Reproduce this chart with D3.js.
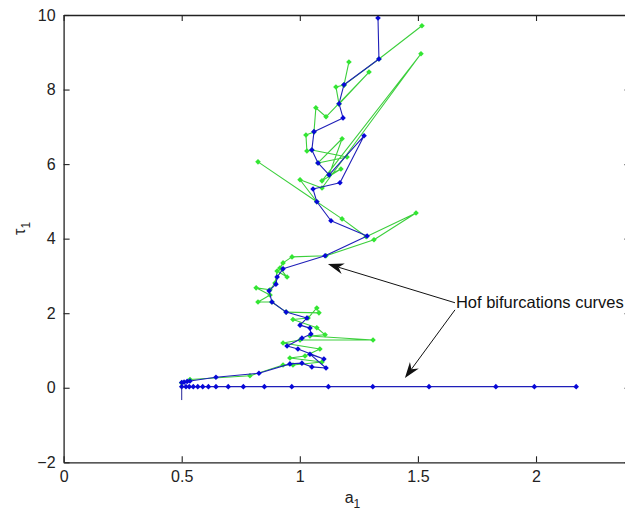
<!DOCTYPE html>
<html>
<head>
<meta charset="utf-8">
<script src="https://cdn.jsdelivr.net/npm/d3@7"></script>
<style>
body { margin:0; background:#fff; overflow:hidden; }
svg { display:block; font-family:"Liberation Sans", Arial, sans-serif; }
</style>
</head>
<body>
<div id="graph_container"></div>
<script>
var xTicks = [0, 0.5, 1, 1.5, 2];
var yTicks = [-2, 0, 2, 4, 6, 8, 10];

// lower hopf branch (a1, tau1)
var baseA   = [0.500,0.518,0.532,0.549,0.568,0.589,0.613,0.645,0.697,0.761,0.850,0.966,1.121,1.309,1.547,1.830,1.993,2.170];
var baseTau = [0.03,0.03,0.03,0.03,0.03,0.03,0.03,0.03,0.03,0.03,0.03,0.03,0.03,0.03,0.03,0.03,0.03,0.03];

var blueTail = [[0.5,-0.03],[0.5,-0.33]];

var blueUpper = [
  [0.500,0.14],[0.510,0.15],[0.523,0.17],[0.535,0.18],[0.645,0.28],[0.827,0.39],
  [0.958,0.64],[1.009,0.66],[1.051,0.56],[1.111,0.53],[1.043,0.90],[1.102,0.77],
  [0.992,1.04],[0.946,1.12],[1.009,1.33],[1.047,1.44],[1.043,1.60],[1.001,1.68],
  [1.030,1.87],[0.942,2.03],[0.882,2.30],[0.870,2.60],[0.899,2.78],[0.904,2.97],
  [0.929,3.19],[1.107,3.54],[1.285,4.07],[1.132,4.48],[1.072,4.99],[1.056,5.33],
  [1.170,5.50],[1.272,6.76],[1.124,5.71],[1.077,6.03],[1.051,6.38],[1.060,6.87],
  [1.183,7.24],[1.166,7.62],[1.187,8.13],[1.335,8.82],[1.331,9.92]
];

var greenCurve = [
  [0.500,0.13],[0.535,0.22],[0.789,0.32],[0.929,0.61],[0.971,0.61],[1.094,0.69],
  [0.958,0.80],[1.022,0.85],[1.085,1.04],[0.929,1.20],[1.001,1.28],[1.310,1.28],
  [1.043,1.39],[1.107,1.42],[1.072,1.61],[0.971,1.83],[1.035,1.87],[1.072,2.14],
  [1.081,2.01],[0.942,2.03],[0.882,2.30],[0.823,2.30],[0.874,2.49],[0.815,2.68],
  [0.874,2.63],[0.895,2.81],[0.904,3.13],[0.946,2.97],[0.916,3.21],[0.929,3.35],
  [0.967,3.51],[1.111,3.54],[1.314,3.97],[1.492,4.69],[1.281,4.05],[1.179,4.53],
  [0.823,6.06],[1.072,4.99],[1.001,5.58],[1.094,5.36],[1.513,8.96],[1.094,5.55],
  [1.174,5.87],[1.124,5.71],[1.179,6.68],[1.077,6.03],[1.200,6.19],[1.051,6.38],
  [1.030,6.35],[1.026,6.78],[1.060,6.86],[1.068,7.51],[1.111,7.27],[1.293,8.47],
  [1.166,7.61],[1.153,8.07],[1.187,8.12],[1.208,8.74],[1.187,8.12],[1.335,8.82],
  [1.517,9.71]
];

var noteText = 'Hof bifurcations curves';
var noteAt = [1.661, 2.31];
var arrowTails = [[1.657, 2.28], [1.657, 2.09]];
var arrowTips  = [[1.119, 3.32], [1.445, 0.26]];

var w = 625, h = 516;
var blueLine = '#1f1fb8', blueMark = '#0808d8';
var greenLine = '#3ccf3c', greenMark = '#33e633';

var svg = d3.select('#graph_container')
            .append('svg')
            .attr('width', w)
            .attr('height', h);

var xScale = d3.scaleLinear().domain([0, 2.4]).range([63.6, 630.5]);
var yScale = d3.scaleLinear().domain([-2, 10]).range([462.3, 15]);

var plot = svg.append('g');

function diamond(r) {
  return 'M0,' + (-r) + 'L' + r + ',0L0,' + r + 'L' + (-r) + ',0Z';
}

var line = d3.line()
             .x(function(d) { return xScale(d[0]); })
             .y(function(d) { return yScale(d[1]); });

var base = baseA.map(function(a, i) { return [a, baseTau[i]]; });

function drawSeries(data, lineColor, markColor, cls) {
  plot.append('path')
      .datum(data)
      .attr('fill', 'none')
      .attr('stroke', lineColor)
      .attr('stroke-width', 1.1)
      .attr('stroke-linejoin', 'round')
      .attr('d', line);
  plot.selectAll('.' + cls)
      .data(data)
      .enter()
      .append('path')
      .attr('class', cls)
      .attr('d', diamond(2.8))
      .attr('fill', markColor)
      .attr('transform', function(d) {
        return 'translate(' + xScale(d[0]) + ',' + yScale(d[1]) + ')';
      });
}

drawSeries(greenCurve, greenLine, greenMark, 'g_pt');
drawSeries(base, blueLine, blueMark, 'b_base');
drawSeries(blueUpper, blueLine, blueMark, 'b_up');

plot.append('path')
    .datum(blueTail)
    .attr('fill', 'none')
    .attr('stroke', '#26269a')
    .attr('stroke-width', 1)
    .attr('d', line);

// box + ticks
var tickCol = '#222';
var xAxis = d3.axisBottom(xScale).tickValues(xTicks).tickSizeInner(-6).tickSizeOuter(0).tickPadding(8)
              .tickFormat(function(d) { return d; });
var yAxis = d3.axisLeft(yScale).tickValues(yTicks).tickSizeInner(-6).tickSizeOuter(0).tickPadding(8);
var xTop = d3.axisTop(xScale).tickValues(xTicks).tickSizeInner(-6).tickSizeOuter(0).tickFormat('');
var yRight = d3.axisRight(yScale).tickValues(yTicks).tickSizeInner(-6).tickSizeOuter(0).tickFormat('');

svg.append('g').attr('transform', 'translate(0,' + yScale(-2) + ')').attr('id', 'xAxis').call(xAxis);
svg.append('g').attr('transform', 'translate(' + xScale(0) + ',0)').attr('id', 'yAxis').call(yAxis);
svg.append('g').attr('transform', 'translate(0,' + yScale(10) + ')').call(xTop);
svg.append('g').attr('transform', 'translate(' + xScale(2.4) + ',0)').call(yRight);

svg.selectAll('.domain').attr('stroke', tickCol).attr('stroke-width', 1.3);
svg.selectAll('.tick line').attr('stroke', tickCol).attr('stroke-width', 1.1);
svg.selectAll('.tick text').attr('fill', '#222').style('font-size', '16px')
   .style('font-family', '"Liberation Sans", Arial, sans-serif');

// axis labels
var xl = svg.append('text')
            .attr('x', xScale(1.19))
            .attr('y', 503)
            .attr('fill', '#222')
            .style('font-size', '16px');
xl.append('tspan').text('a');
xl.append('tspan').attr('dy', 5).style('font-size', '12px').text('1');

var yl = svg.append('text')
            .attr('transform', 'translate(25,' + yScale(4.1) + ') rotate(-90)')
            .attr('fill', '#222')
            .style('font-size', '16px');
yl.append('tspan').text('\u03c4');
yl.append('tspan').attr('dy', 5).style('font-size', '12px').text('1');

// annotation
svg.append('text')
   .attr('x', xScale(noteAt[0]))
   .attr('y', yScale(noteAt[1]))
   .attr('dominant-baseline', 'central')
   .attr('fill', '#111')
   .style('font-size', '16.5px')
   .text(noteText);

for (var i = 0; i < arrowTips.length; i++) {
  var sx = xScale(arrowTails[i][0]), sy = yScale(arrowTails[i][1]);
  var tx = xScale(arrowTips[i][0]), ty = yScale(arrowTips[i][1]);
  var len = Math.sqrt((tx-sx)*(tx-sx) + (ty-sy)*(ty-sy));
  var ux = (tx-sx)/len, uy = (ty-sy)/len;
  var nx = -uy, ny = ux;
  var L = 16, hw = 5.5, notch = 11;
  svg.append('line')
     .attr('x1', sx).attr('y1', sy)
     .attr('x2', tx - ux*notch).attr('y2', ty - uy*notch)
     .attr('stroke', '#111').attr('stroke-width', 1);
  var pts = [[tx, ty],
             [tx - ux*L + nx*hw, ty - uy*L + ny*hw],
             [tx - ux*notch, ty - uy*notch],
             [tx - ux*L - nx*hw, ty - uy*L - ny*hw]];
  svg.append('polygon')
     .attr('points', pts.map(function(p) { return p.join(','); }).join(' '))
     .attr('fill', '#111');
}
</script>
</body>
</html>
